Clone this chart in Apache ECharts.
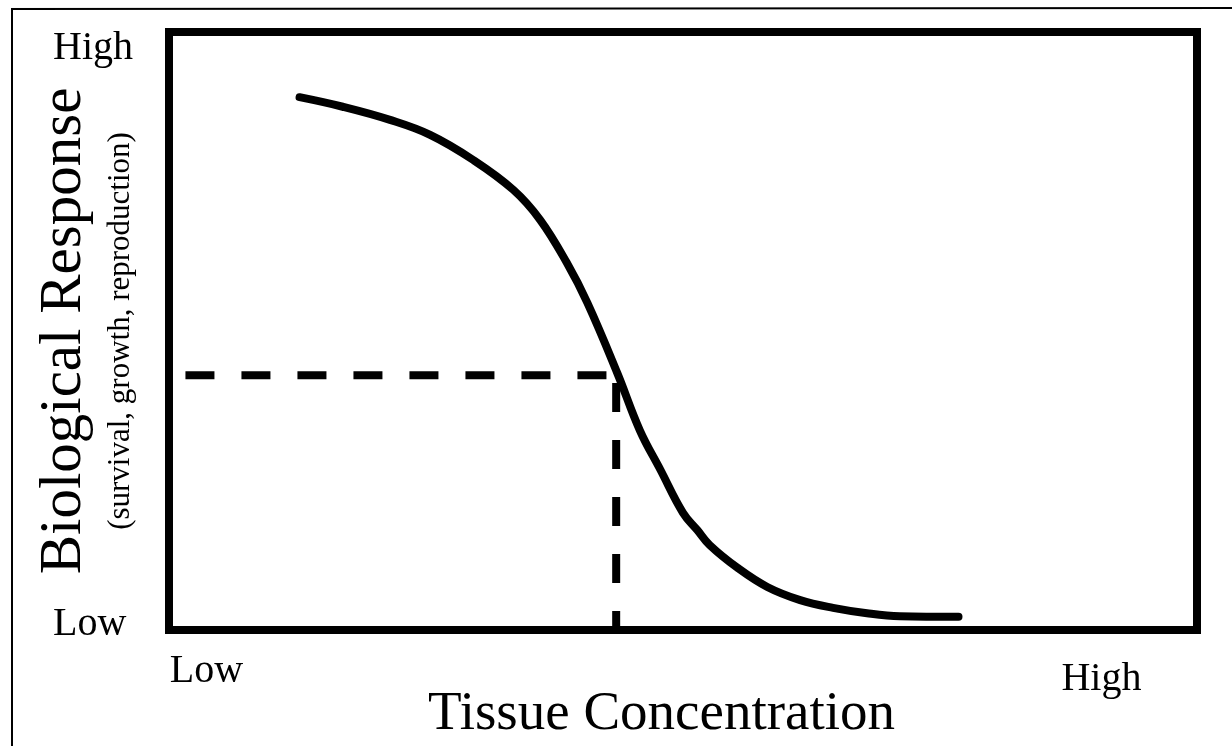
<!DOCTYPE html>
<html>
<head>
<meta charset="utf-8">
<script src="https://cdn.jsdelivr.net/npm/echarts@6/dist/echarts.min.js"></script>
<style>
  html, body { margin: 0; padding: 0; background: #fff; }
  #chart { width: 1232px; height: 746px; }
</style>
</head>
<body>
<div id="chart"></div>
<script>
// ---- data (x: tissue concentration 0-100, y: biological response 0-100) ----
const curveX = [12.7, 16.9, 21.5, 25.4, 29.6, 33.5, 36.1, 38.7, 40.7, 43.6, 45.8, 47.8, 50.0, 51.4, 52.6, 55.3, 58.2, 61.4, 64.6, 67.9, 71.1, 76.8];
const curveY = [89.1, 87.5, 85.3, 82.8, 78.6, 73.6, 68.6, 61.4, 54.7, 43.0, 33.4, 26.8, 19.6, 16.7, 14.2, 10.4, 7.2, 5.0, 3.7, 2.8, 2.3, 2.2];
const refX = [1.6, 43.5];          // horizontal reference line span
const refY = 42.6;                 // response level at the effect concentration
const refVertY = [41.3, 0];        // vertical reference line span
const xTickLabels = ['Low', 'High'];
const xTickValues = [3.65, 90.7];
const yTickLabels = ['Low', 'High'];
const yTickValues = [1.0, 97.2];
const xTitle = 'Tissue Concentration';
const yTitle = 'Biological Response';
const ySubtitle = '(survival, growth, reproduction)';

const FONT = "'Liberation Serif', 'Times New Roman', serif";
const curveData = curveX.map((x, i) => [x, curveY[i]]);
const hLine = refX.map(x => [x, refY]);
const vLine = refVertY.map(y => [refX[1], y]);

const chart = echarts.init(document.getElementById('chart'), null, { renderer: 'canvas' });
chart.setOption({
  animation: false,
  backgroundColor: '#ffffff',
  grid: {
    left: 169, top: 32, width: 1028, height: 598,
    outerBoundsMode: 'none',
    show: true, borderColor: '#000', borderWidth: 8, backgroundColor: 'transparent'
  },
  xAxis: {
    type: 'value', min: 0, max: 100,
    axisLine: { show: false }, axisTick: { show: false }, splitLine: { show: false },
    axisLabel: {
      customValues: xTickValues,
      formatter: v => {
        const i = xTickValues.indexOf(v);
        return i === 1 ? '{hi|' + xTickLabels[i] + '}' : (xTickLabels[i] || '');
      },
      rich: { hi: { fontFamily: FONT, fontSize: 40, color: '#000', padding: [8, 0, 0, 0] } },
      fontFamily: FONT, fontSize: 40, color: '#000', margin: 21
    },
    name: xTitle, nameLocation: 'middle', nameGap: 57, nameMoveOverlap: false,
    nameTextStyle: { fontFamily: FONT, fontSize: 55, color: '#000', padding: [0, 43, 0, 0] }
  },
  yAxis: {
    type: 'value', min: 0, max: 100,
    axisLine: { show: false }, axisTick: { show: false }, splitLine: { show: false },
    axisLabel: {
      customValues: yTickValues,
      formatter: v => yTickLabels[yTickValues.indexOf(v)] || '',
      fontFamily: FONT, fontSize: 40, color: '#000', margin: 116, align: 'left'
    },
    name: '{main|' + yTitle + '}\n{sub|' + ySubtitle + '}',
    nameLocation: 'middle', nameRotate: 90, nameGap: 24, nameMoveOverlap: false,
    nameTextStyle: {
      color: '#000', align: 'center',
      rich: {
        main: { fontFamily: FONT, fontSize: 59, lineHeight: 66, color: '#000' },
        sub: { fontFamily: FONT, fontSize: 31, lineHeight: 48, color: '#000' }
      }
    }
  },
  graphic: [{
    type: 'polyline', silent: true,
    shape: { points: [[12, 746], [12, 9], [1232, 8]] },
    style: { stroke: '#000', lineWidth: 2, fill: null }
  }],
  series: [
    {
      type: 'line', data: curveData, smooth: 0.4, symbol: 'none',
      lineStyle: { color: '#000', width: 8, cap: 'round', join: 'round' }, z: 3
    },
    {
      type: 'line', data: hLine, symbol: 'none',
      lineStyle: { color: '#000', width: 8, type: [29, 27], cap: 'butt' }, z: 2
    },
    {
      type: 'line', data: vLine, symbol: 'none',
      lineStyle: { color: '#000', width: 8, type: [29, 28], cap: 'butt' }, z: 2
    }
  ]
});
</script>
</body>
</html>
